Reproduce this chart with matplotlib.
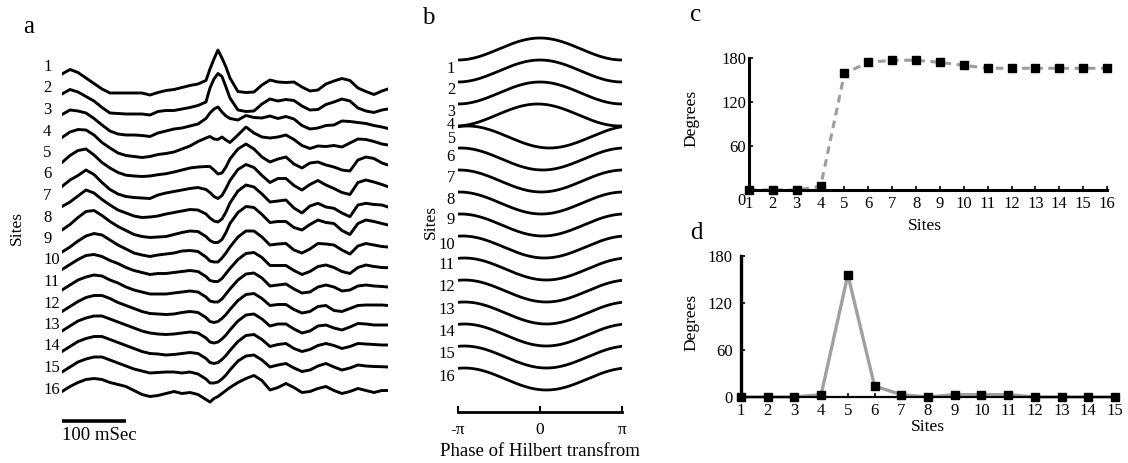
import numpy as np
import matplotlib.pyplot as plt
from matplotlib.transforms import blended_transform_factory

plt.rcParams['font.family'] = ['Liberation Serif', 'DejaVu Serif']

W, H = 1128, 463

# ---- panel a: recorded traces, one per site (amplitude, arbitrary units) ----
t_ms = [0, 12.5, 25, 37.5, 50, 62.5, 75, 87.5, 100, 112.5, 125, 137.5, 150, 162.5,
        175, 187.5, 200, 212.5, 225, 231.25, 237.5, 243.75, 250, 256.25, 262.5, 275,
        287.5, 300, 312.5, 325, 337.5, 350, 362.5, 375, 387.5, 400, 412.5, 425, 437.5,
        450, 462.5, 475, 487.5, 500, 509.5]

site1 = [19, 23.5, 20.5, 15, 9.5, 4, 0, 0, 0, 0, 0, -2, 0.5, 2.5, 3.5, 5.5, 7.5, 9, 12.5,
         24, 34, 43, 35, 26, 15, 1.5, 0.5, 1, 8, 13, 11, 10.5, 11, 6, 2, 3, 9, 12, 14.5,
         12.5, 5, 1.5, -1.5, 2, 4]
site2 = [20.5, 25, 22.5, 18, 13.5, 7, 1.5, 1, 0.5, 0.5, 0.5, -0.5, 3, 4, 4, 5.5, 7, 9, 12.5,
         26.5, 35.5, 41, 38, 27.5, 16.5, 4.5, 3, 3.5, 10.5, 15.5, 13.5, 15, 14, 8.5, 4.5, 5,
         10, 12.5, 15.5, 13.5, 6.5, 3.5, 2, 4.5, 5.5]
site3 = [21.5, 26, 25, 23, 17.5, 11, 5, 2, 1, 1, 0.5, -0.5, 3, 5, 7, 8, 10, 12, 17.5,
         23, 27, 29, 24, 20, 17.5, 16, 20.5, 18.5, 18, 20, 17.5, 19.5, 17, 10.5, 7, 8, 10.5,
         11, 15, 14.5, 13.5, 12.5, 10.5, 9, 7.5]
site4 = [20, 25.5, 28, 27.5, 22.5, 15, 9.5, 4.5, 2, 1, 0, 1, 3, 4, 5.5, 8.5, 11.5, 16, 19.5,
         21, 18.5, 18, 20.5, 17.5, 15, 22.5, 30.5, 24.5, 20.5, 19.5, 20.5, 22.5, 18, 12, 9,
         11.5, 11, 12, 10.5, 14.5, 18.5, 18, 16, 13.5, 12.5]
site5 = [16.5, 23.5, 28.5, 30, 24, 16.5, 11, 6.5, 3.8, 3, 2.5, 3, 4.3, 5.3, 7, 9, 11, 12, 12.5,
         12.5, 9, 5, 6, 12, 20, 30, 35, 30, 22, 17, 20, 22, 15, 11, 16, 17, 14, 12, 9, 8,
         19, 22, 20.5, 16, 14]
site6 = [14, 20.5, 25, 30.5, 26, 18, 11, 6.5, 4, 3, 2.5, 2, 5.5, 7.5, 9, 10.5, 12, 13, 11,
         8, 4, 2, 5, 12, 20, 31, 36, 33, 25, 18, 22, 22, 15, 10.5, 16, 20, 15.5, 12, 8, 6,
         18, 20.5, 18.5, 16, 13.8]
site7 = [15.5, 20, 26, 32, 29, 22.5, 17, 12, 9, 6, 4.5, 5, 6, 8, 9.5, 11, 12.5, 12, 8,
         4, 1, 0, 3, 10, 19, 31, 37, 35, 28, 20, 21, 22, 14, 9, 16, 18.7, 15, 13.7, 9, 5.3,
         17, 18.7, 17.5, 17, 15]
site8 = [13.5, 19, 26, 32, 33, 28, 22, 17, 13, 9, 7, 6, 6.5, 7, 9, 11, 12.5, 12, 7,
         3, 1, 1, 4, 11, 20, 31, 37, 36, 29, 21, 22, 22, 16, 13.5, 19, 23.5, 21, 20, 13, 9,
         20, 23.5, 22, 20, 18.5]
site9 = [13, 18, 24, 29, 31.5, 30, 25, 20, 16, 12, 10, 8.5, 10, 11, 12, 14, 14.5, 13.5, 8,
         4, 3, 3, 7, 12, 18, 28, 34, 34, 28, 20, 21, 21.5, 15, 12, 16, 21.5, 21, 20, 15, 11,
         19, 21.5, 20, 18.5, 18]
site10 = [17, 22, 27, 31, 32, 30, 26, 23, 19, 16, 14, 12, 13, 13, 14, 15, 16, 15, 10,
          6, 5, 5, 8, 13, 18, 27, 33, 34, 29, 21, 21, 21, 16, 12, 15, 20, 21.5, 19, 15, 13,
          19, 21.5, 20, 19, 18.8]
site11 = [18, 23, 28, 31, 33, 32, 28, 25, 21, 18, 16, 14, 14, 14, 15, 16, 17, 16, 11,
          7, 6, 6, 9, 14, 19, 28, 34, 35, 30, 22, 23, 24, 19, 15, 16, 21, 23, 21, 17, 18,
          22, 23, 22, 21.5, 21]
site12 = [18, 23, 28, 32, 34, 34, 31, 27, 24, 21, 18, 16, 15.5, 15, 15.5, 17, 18, 17, 12,
          8, 7, 8, 11, 15, 20, 29, 35, 36, 31, 24, 25, 25, 20, 16.5, 18, 23, 24, 19, 18, 21,
          24, 24.5, 24.5, 24.5, 24]
site13 = [20, 25, 30, 33, 35, 35, 32, 29, 26, 23, 20, 18, 17, 16.5, 17, 18, 19, 18, 13,
          9, 8, 9, 12, 16, 21, 30, 36, 37, 32, 25, 27, 27, 22, 18, 20, 25, 26, 23, 21, 24,
          27.5, 27, 26, 26, 26]
site14 = [21, 26, 31, 34, 36, 36, 33, 30, 27, 24, 21, 19, 18.5, 17.5, 18, 19, 20, 19, 14,
          10, 9, 10, 13, 17, 22, 31, 37, 38, 33, 26, 28, 29, 24, 21, 23, 27, 29, 27, 24, 26,
          29, 28.5, 28, 27.5, 27.5]
site15 = [22, 27, 32, 35, 37, 37, 34, 31, 28, 25, 23, 21, 21.5, 22, 22, 21, 22, 20, 15,
          11, 11, 12, 15, 19, 24, 33, 38, 39, 34, 27, 29, 30.5, 26, 22.5, 24, 28, 30.5, 27,
          24, 26, 29, 28, 27.5, 27.3, 27]
site16 = [24, 29, 33, 36, 37, 36, 33, 31, 29, 25, 21, 19, 20, 22, 24, 22, 23, 21, 16,
          13.5, 17, 19, 22, 25, 28, 33, 37, 40, 35, 25.5, 28, 32, 28, 23, 24, 27, 29, 25, 22,
          24, 27, 25, 23, 25, 25]
traces = [site1, site2, site3, site4, site5, site6, site7, site8,
          site9, site10, site11, site12, site13, site14, site15, site16]

# ---- panels b/c: phase per site (degrees) ----
sites_c = list(range(1, 17))
phase_c = [0, 0, 0, 5, 159, 174, 177, 177, 174, 170, 166, 166, 166, 166, 166, 166]

# ---- panel d: phase difference between neighbouring sites (degrees) ----
sites_d = list(range(1, 16))
diff_d = [0, 0, 0, 3, 156, 14, 3, 0, 3, 3, 3, 0, 0, 0, 0]

site_labels = [str(s) for s in sites_c]

fig = plt.figure(figsize=(W / 100, H / 100), dpi=100)


def px_axes(left, top, right, bottom):
    return fig.add_axes([left / W, 1 - bottom / H, (right - left) / W, (bottom - top) / H])


def px_text(x, y, s, **kw):
    fig.text(x / W, 1 - y / H, s, **kw)


# panel a
trace_gap = 21.5
ax_a = px_axes(62, 40, 388, 420)
ax_a.set_xlim(0, 509.5)
ax_a.set_ylim(-327, 53)
ax_a.axis('off')
for k, tr in enumerate(traces):
    ax_a.plot(t_ms, np.array(tr) - k * trace_gap, color='black', lw=2.1,
              solid_joinstyle='round')
lab_tr = blended_transform_factory(fig.transFigure, ax_a.transData)
for k, lab in enumerate(site_labels):
    ax_a.text(43 / W, 26 - k * trace_gap, lab, transform=lab_tr, ha='left',
              va='center', fontsize=12)
ax_a.plot([0, 100], [-328, -328], color='black', lw=2.6, clip_on=False,
          solid_capstyle='butt')
px_text(62, 436, '100 mSec', ha='left', va='center', fontsize=13.5)
px_text(17, 228, 'Sites', rotation=90, ha='center', va='center', fontsize=12.5)
px_text(29, 27, 'a', ha='center', va='center', fontsize=18)

# panel b: phase of the Hilbert transform at each site
theta = np.linspace(-np.pi, np.pi, 300)
ax_b = px_axes(458, 30, 622, 412)
ax_b.set_xlim(-np.pi, np.pi)
ax_b.set_ylim(-33, 1.727)
for k, ph in enumerate(phase_c):
    ax_b.plot(theta, np.cos(theta + np.deg2rad(ph)) - 2 * k, color='black', lw=2.0)
for side in ['top', 'right', 'left']:
    ax_b.spines[side].set_visible(False)
ax_b.spines['bottom'].set_linewidth(2.0)
ax_b.set_yticks([])
ax_b.set_xticks([-np.pi, 0, np.pi])
ax_b.set_xticklabels(['-π', '0', 'π'], fontsize=12.5)
ax_b.tick_params(axis='x', direction='in', length=4, width=1.5, pad=7)
b_label_y = [-1.82, -3.73, -5.75, -6.95, -8.15, -9.82, -11.73, -13.73, -15.55,
             -17.82, -19.64, -21.64, -23.73, -25.73, -27.73, -29.82]
b_label_size = [12, 12, 11.5, 11.5, 11.5] + [12] * 11
lab_tr_b = blended_transform_factory(fig.transFigure, ax_b.transData)
for lab, yy, fs in zip(site_labels, b_label_y, b_label_size):
    ax_b.text(455 / W, yy, lab, transform=lab_tr_b, ha='right', va='center', fontsize=fs)
px_text(540, 452, 'Phase of Hilbert transfrom', ha='center', va='center', fontsize=13.5)
px_text(431, 222, 'Sites', rotation=90, ha='center', va='center', fontsize=12.5)
px_text(428, 18, 'b', ha='center', va='center', fontsize=18)

# panel c: phase along the sites
ax_c = px_axes(749, 58, 1107, 190)
ax_c.plot(sites_c, phase_c, color='#9d9d9d', lw=2.2, dashes=(2.5, 1.8), clip_on=False)
ax_c.plot(sites_c, phase_c, 's', color='black', ms=6, clip_on=False)
ax_c.set_xlim(1, 16)
ax_c.set_ylim(0, 180)
ax_c.set_xticks(sites_c)
ax_c.set_yticks([60, 120, 180])
ax_c.tick_params(direction='in', length=3, width=1.2, labelsize=12)
ax_c.tick_params(axis='x', pad=4)
ax_c.tick_params(axis='y', pad=2)
for side in ['top', 'right']:
    ax_c.spines[side].set_visible(False)
for side in ['left', 'bottom']:
    ax_c.spines[side].set_linewidth(2.2)
px_text(741, 201, '0', ha='center', va='center', fontsize=12)
px_text(925, 226, 'Sites', ha='center', va='center', fontsize=12.5)
px_text(691, 118, 'Degrees', rotation=90, ha='center', va='center', fontsize=12.5)
px_text(696, 15, 'c', ha='center', va='center', fontsize=18)

# panel d: phase difference between neighbouring sites
ax_d = px_axes(741, 256, 1115, 397)
ax_d.plot(sites_d, diff_d, color='#a0a0a0', lw=2.4, clip_on=False)
ax_d.plot(sites_d, diff_d, 's', color='black', ms=6, clip_on=False)
ax_d.set_xlim(1, 15)
ax_d.set_ylim(0, 180)
ax_d.set_xticks(sites_d)
ax_d.set_yticks([0, 60, 120, 180])
ax_d.tick_params(direction='in', length=3, width=1.2, labelsize=12)
ax_d.tick_params(axis='x', pad=4)
ax_d.tick_params(axis='y', pad=6)
for side in ['top', 'right']:
    ax_d.spines[side].set_visible(False)
ax_d.spines['left'].set_linewidth(2.4)
ax_d.spines['bottom'].set_linewidth(1.6)
px_text(928, 427, 'Sites', ha='center', va='center', fontsize=12.5)
px_text(691, 322, 'Degrees', rotation=90, ha='center', va='center', fontsize=12.5)
px_text(696, 233, 'd', ha='center', va='center', fontsize=18)

fig.savefig('out.png', dpi=100)
